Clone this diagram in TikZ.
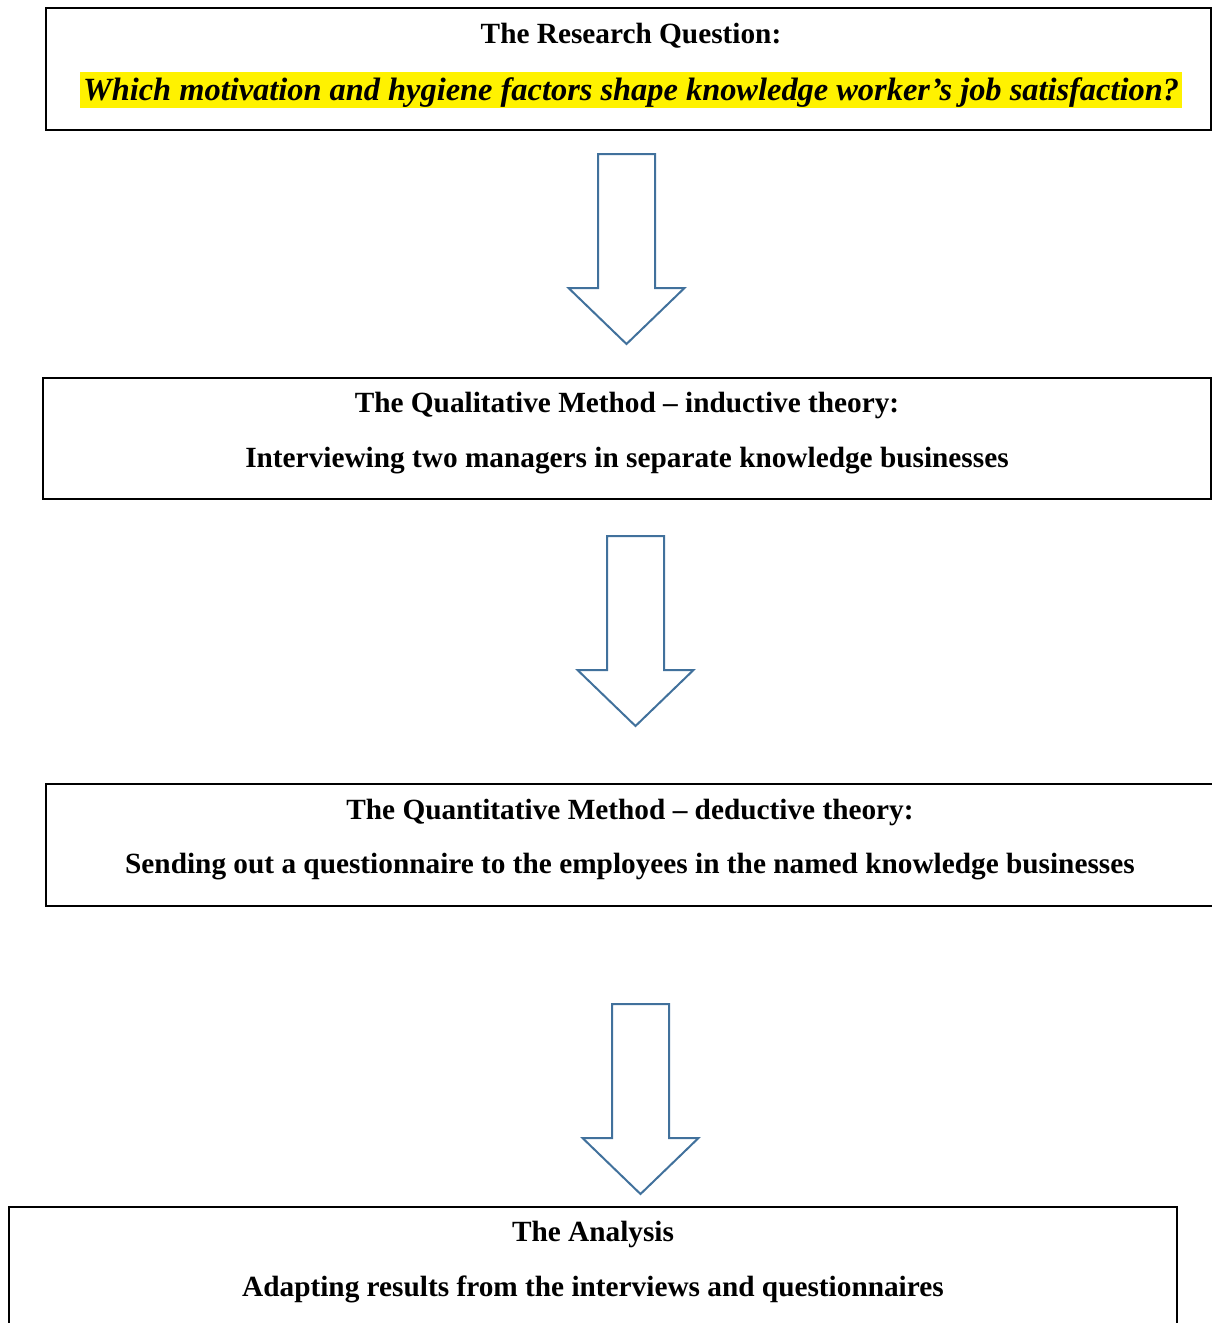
\documentclass[tikz,border=0pt]{standalone}
\usepackage{fontspec}
\setmainfont{Liberation Serif}
\usepackage{xcolor}
\usetikzlibrary{positioning}
\definecolor{arrowblue}{RGB}{65,113,156}

\begin{document}
\begin{tikzpicture}[x=1pt, y=-1pt,
  box/.style={draw=black, line width=1.2pt, minimum width=1168pt, minimum height=122pt, inner sep=0pt},
  head/.style={anchor=base, inner sep=0pt, font=\fontsize{29.3}{34}\selectfont\bfseries},
  hilite/.style={anchor=base, fill=yellow, inner xsep=3pt, inner ysep=0pt, text height=28.5pt, text depth=7.5pt,
                 font=\fontsize{32.4}{38}\selectfont\bfseries\itshape},
  arrowline/.style={draw=arrowblue, line width=2pt, line join=miter},
  blockarrow/.pic={\draw[arrowline] (-28.5,0) -- (28.5,0) -- (28.5,134) -- (58,134) -- (0,190)
                   -- (-58,134) -- (-28.5,134) -- cycle;}
]
\useasboundingbox (0,0) rectangle (1212,1323);
\clip (0,0) rectangle (1212,1323);

% --- boxes ---
\node[box, minimum width=1165pt] (question) at (628.5,69) {};
\node[box, minimum height=121pt] (qualitative) at (627,438.5) {};
\node[box] (quantitative) at (630,845) {};
\node[box] (analysis) at (593,1268) {};

% --- texts ---
\node[head]   (qhead)   at ([xshift=2.5pt,yshift=-36pt]question.north) {The Research Question:};
\node[hilite] (qtext)   at ([xshift=2.5pt,yshift=-93.5pt]question.north) {Which motivation and hygiene factors shape knowledge worker’s job satisfaction?};
\node[head]   (qlhead)  at ([yshift=-35pt]qualitative.north) {The Qualitative Method – inductive theory:};
\node[head]   (qltext)  at ([yshift=-90pt]qualitative.north) {Interviewing two managers in separate knowledge businesses};
\node[head]   (qnhead)  at ([yshift=-36pt]quantitative.north) {The Quantitative Method – deductive theory:};
\node[head]   (qntext)  at ([yshift=-90pt]quantitative.north) {Sending out a questionnaire to the employees in the named knowledge businesses};
\node[head]   (anhead)  at ([yshift=-35pt]analysis.north) {The Analysis};
\node[head]   (antext)  at ([yshift=-90pt]analysis.north) {Adapting results from the interviews and questionnaires};

% --- block arrows ---
\pic at (626.5,154) {blockarrow};
\pic at (635.5,536) {blockarrow};
\pic at (640.5,1004) {blockarrow};

\end{tikzpicture}
\end{document}
